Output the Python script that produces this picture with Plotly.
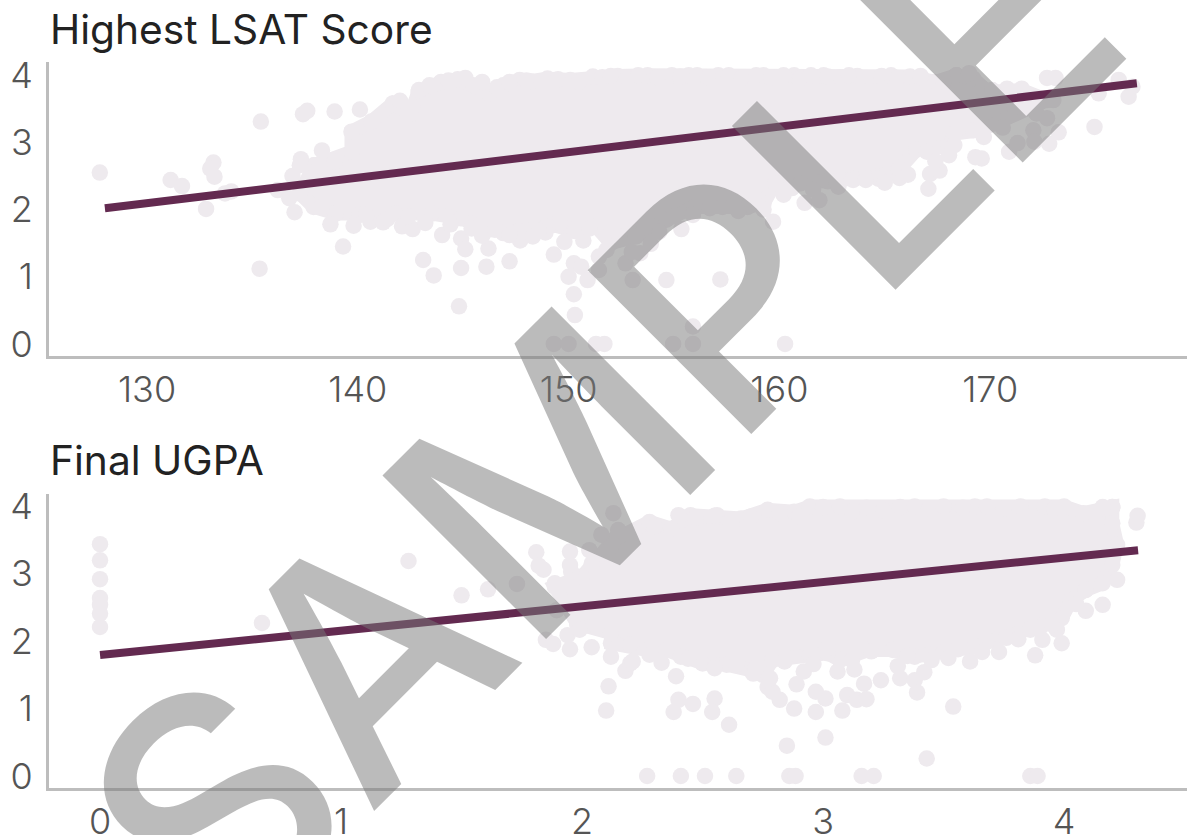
import plotly.graph_objects as go

# ---- Highest LSAT Score ----
lsat_x = [127.76,131.12,131.66,133.15,133.0,133.2,132.8,134.0,133.7,135.4,135.34,137.4,137.6,138.9,140.1,139.3,138.7,139.8,137.0,136.2,136.9,137.3,137.25,138.3,138.9,138.2,136.75,138.3,140.6,141.2,142.1,142.6,143.1,143.6,144.9,146.1,147.2,144.8,144.0,144.9,145.1,146.2,145.9,146.9,147.7,148.3,148.9,149.3,150.7,149.8,150.0,150.25,150.3,150.25,150.6,150.9,149.3,150.0,151.3,151.7,154.96,155.9,155.9,160.27,154.64,157.2,153.04,152.7,153.4,153.0,153.9,151.8,151.44,151.44,155.35,154.3,155.9,158.05,159.7,159.25,160.2,161.2,161.9,162.8,163.5,164.7,165.7,165.8,167.07,167.15,167.6,167.0,168.05,168.3,169.3,169.6,169.2,169.7,170.9,170.6,171.3,172.05,172.1,172.8,173.25,172.7,174.95,175.15,176.57,176.75,176.1,172.7,173.1,173.0,172.2,171.15,169.4,169.65,170.8,171.5,170.1,168.4,169.0]
lsat_y = [2.55,2.44,2.35,2.70,2.61,2.49,2.01,2.27,2.24,3.31,1.12,3.42,3.47,3.46,3.49,1.45,1.78,1.76,1.96,2.29,2.50,2.75,2.66,2.88,2.71,2.66,2.17,2.04,1.82,1.81,1.75,1.71,1.25,1.02,1.13,1.15,1.23,0.56,1.62,1.57,1.41,1.42,1.61,1.65,1.54,1.60,1.66,1.33,1.54,1.52,1.00,0.74,0.43,1.20,1.15,0.95,0,0,0,0,0,0,0.26,0,0.95,0.96,0.95,1.2,1.35,1.37,1.49,1.40,1.30,1.1,1.71,1.67,1.92,1.98,1.82,2.0,2.22,2.10,2.14,2.34,2.44,2.46,2.47,2.59,2.31,2.53,2.58,2.86,2.81,2.96,2.78,2.76,3.18,3.08,2.86,3.22,2.99,3.18,3.01,2.98,3.15,3.36,3.23,3.73,3.68,3.83,3.93,3.96,3.96,3.63,3.43,3.53,3.48,3.8,3.8,3.8,3.78,4.0,4.03]
# edge dots of the LSAT cloud (scalloped top and bottom)
lsat_edge_x = [142.0,142.9,143.4,144.3,145.1,145.9,146.6,147.2,148.0,148.7,149.5,150.5,151.6,152.0,152.8,153.3,154.2,154.9,155.3,156.1,156.6,157.6,158.2,158.9,159.6,160.2,161.0,161.5,162.3,162.9,163.3,165.3,165.6,166.7,167.8,
               140.4,141.4,142.4,143.2,144.4,145.4,146.5,147.2,148.6,149.6,150.3,151.0,152.4,153.6,155.0,156.7,157.8,158.8,160.6,161.6,162.7,164.1,165.0,166.1,167.4]
lsat_edge_y = [3.62,3.78,3.85,3.92,3.96,3.90,3.82,3.90,3.92,3.88,3.94,3.90,3.97,3.99,3.96,4.0,3.97,4.0,3.98,4.0,3.97,4.0,3.96,4.0,3.97,4.0,3.96,4.0,3.98,3.97,4.0,4.0,3.96,3.99,3.90,
               1.92,1.86,1.90,1.80,1.78,1.72,1.70,1.62,1.69,1.80,1.68,1.72,1.60,1.74,1.90,2.02,2.05,2.10,2.32,2.30,2.42,2.44,2.40,2.52,2.72]
# outline of the densest part of the LSAT cloud
lsat_dense_x = [137.93,139.7,139.7,140.64,141.66,142.5,142.88,143.95,144.74,145.47,146.24,146.9,147.68,148.2,149.0,150.08,151.15,152.33,153.75,155.7,157.1,159.25,160.7,162.1,163.7,164.85,166.2,167.4,168.4,169.2,169.9,171.5,172.7,169.55,168.3,168.05,166.5,165.65,164.7,163.5,162.3,161.0,159.8,159.25,158.5,157.3,155.97,154.64,153.2,152.0,151.3,150.0,149.3,148.95,147.6,146.2,144.9,143.5,141.8,140.1,138.95,137.9,137.25,137.93]
lsat_dense_y = [2.66,2.86,3.16,3.31,3.58,3.43,3.75,3.90,3.94,3.85,3.73,3.85,3.93,3.91,3.95,3.93,3.98,3.99,4.0,4.0,4.0,4.0,4.0,4.0,3.99,3.99,3.98,3.9,4.0,3.95,3.75,3.78,3.63,3.18,3.13,2.94,2.89,2.59,2.49,2.46,2.42,2.39,2.39,2.09,2.04,2.04,2.04,1.85,1.6,1.5,1.75,1.7,1.77,1.75,1.67,1.7,1.87,1.94,1.94,1.92,1.94,2.04,2.24,2.66]
lsat_fit_x = [128.0, 176.96]
lsat_fit_y = [2.02, 3.88]

# ---- Final UGPA ----
ugpa_x = [0,0,0,0,0,0,0,0.672,1.28,1.50,1.61,1.73,1.81,1.82,1.84,1.887,1.895,1.85,1.88,1.95,2.04,1.94,1.99,2.06,1.95,1.955,1.95,2.03,2.08,2.13,2.12,2.11,2.10,2.12,2.18,2.2,2.15,2.21,2.39,2.33,2.41,2.40,2.38,2.46,2.55,2.54,2.61,2.77,2.82,2.79,2.71,2.78,2.89,2.88,2.97,3.01,2.97,2.92,3.08,3.10,3.14,3.18,3.17,3.24,3.06,3.13,3.31,3.32,3.38,3.42,3.39,3.54,3.01,2.85,3.43,2.27,2.41,2.51,2.64,2.86,2.886,3.16,3.21,3.86,3.89,3.61,3.52,3.73,3.81,3.88,3.91,3.99,3.97,4.09,4.16,4.22,4.09,4.305,4.30,4.2,4.16]
ugpa_y = [3.44,3.20,2.92,2.64,2.54,2.41,2.21,2.27,3.19,2.68,2.77,2.85,3.32,3.12,3.06,2.86,2.46,2.02,1.96,1.88,1.91,2.09,2.17,2.22,3.33,3.03,3.13,3.35,3.58,3.90,3.40,1.33,0.97,1.77,1.56,1.67,3.65,1.70,1.48,1.68,1.77,1.13,0.95,1.07,1.15,0.95,0.76,1.32,1.13,1.25,1.52,1.45,1.36,1.00,1.25,1.15,0.95,1.55,0.97,1.20,1.13,1.14,1.37,1.42,1.55,1.58,1.63,1.45,1.42,1.54,1.24,1.03,0.57,0.45,0.26,0,0,0,0,0,0,0,0,0,0,1.70,1.75,1.84,2.03,1.79,2.02,1.97,2.17,2.45,2.54,2.91,2.76,3.86,3.76,3.99,3.99]
# edge dots of the UGPA cloud
ugpa_edge_x = [2.30,2.40,2.47,2.55,2.62,2.70,2.82,2.90,3.00,3.12,3.18,3.25,3.38,3.44,3.50,3.58,3.68,3.75,3.82,3.92,3.96,
               2.20,2.28,2.44,2.55,2.64,2.72,2.84,2.96,3.02,3.12,3.20,3.35,3.45,3.56,3.66,3.76,3.90,3.95,4.05]
ugpa_edge_y = [3.70,3.87,3.83,3.86,3.80,3.85,3.90,3.85,3.99,3.92,3.98,3.94,4.0,3.97,4.0,3.98,4.0,3.97,4.0,4.0,3.97,
               1.95,1.80,1.74,1.60,1.65,1.60,1.70,1.66,1.90,1.72,1.85,1.78,1.72,1.88,1.84,2.05,2.20,2.25,2.55]
# outline of the densest part of the UGPA cloud
ugpa_dense_x = [1.98,1.887,2.0,2.04,2.13,2.28,2.37,2.45,2.56,2.66,2.77,2.88,2.945,3.07,3.32,3.63,4.0,4.08,4.2,4.2,4.22,4.2,4.16,4.09,4.03,3.99,3.92,3.86,3.74,3.63,3.5,3.38,3.29,3.19,3.07,3.02,2.945,2.79,2.75,2.70,2.6,2.5,2.35,2.27,2.12,2.12,1.98]
ugpa_dense_y = [2.26,2.81,2.96,3.15,3.5,3.77,3.67,3.87,3.87,3.82,3.95,3.92,4.0,4.0,3.99,4.0,4.0,3.90,3.99,3.75,3.43,3.13,2.86,2.76,2.61,2.34,2.26,2.17,2.07,1.92,1.84,1.77,1.87,1.87,1.72,1.82,1.79,1.72,1.5,1.57,1.65,1.67,1.87,1.87,1.97,2.12,2.26]
ugpa_fit_x = [0.0, 4.307]
ugpa_fit_y = [1.795, 3.35]

titles = ["Highest LSAT Score", "Final UGPA"]
lsat_ticks = [130, 140, 150, 160, 170]
ugpa_ticks = [0, 1, 2, 3, 4]
y_ticks = [0, 1, 2, 3, 4]
watermark = "SAMPLE"

DOT = "#EEEAEE"
LINE = "#632A50"
AXIS = "#BDBDBD"
FONT = "Inter"

fig = go.Figure()
panels = [
    ("x", "y", lsat_dense_x, lsat_dense_y, lsat_x + lsat_edge_x, lsat_y + lsat_edge_y, lsat_fit_x, lsat_fit_y),
    ("x2", "y2", ugpa_dense_x, ugpa_dense_y, ugpa_x + ugpa_edge_x, ugpa_y + ugpa_edge_y, ugpa_fit_x, ugpa_fit_y),
]
for xa, ya, dx, dy, px, py, fx, fy in panels:
    fig.add_trace(go.Scatter(x=dx, y=dy, xaxis=xa, yaxis=ya, mode="lines+markers", fill="toself",
                             fillcolor=DOT, line=dict(color=DOT, width=14),
                             marker=dict(color=DOT, size=16.5), hoverinfo="skip", showlegend=False))
    fig.add_trace(go.Scatter(x=px, y=py, xaxis=xa, yaxis=ya, mode="markers",
                             marker=dict(color=DOT, size=16.5), showlegend=False))
    fig.add_trace(go.Scatter(x=fx, y=fy, xaxis=xa, yaxis=ya, mode="lines",
                             line=dict(color=LINE, width=8), showlegend=False))

tick_font = dict(family=FONT, size=36, color="#555555", weight=300)
common = dict(showgrid=False, zeroline=False, showline=True, linecolor=AXIS, linewidth=3,
              ticks="", tickfont=tick_font, automargin=False)
fig.update_layout(
    width=1187, height=835, margin=dict(l=0, r=0, t=0, b=0),
    paper_bgcolor="white", plot_bgcolor="white", showlegend=False,
    xaxis=dict(domain=[0.0413, 1], range=[125.35, 179.34], tickvals=lsat_ticks, anchor="y", ticklabelstandoff=0, **common),
    yaxis=dict(domain=[0.5737, 0.9257], range=[-0.179, 4.196], tickvals=y_ticks, anchor="x", ticklabelstandoff=6, **common),
    xaxis2=dict(domain=[0.0413, 1], range=[-0.2116, 4.51], tickvals=ugpa_ticks, anchor="y2", ticklabelstandoff=0, **common),
    yaxis2=dict(domain=[0.0563, 0.4084], range=[-0.178, 4.184], tickvals=y_ticks, anchor="x2", ticklabelstandoff=6, **common),
)
title_pos = [0.965, 0.448]
for t, yp in zip(titles, title_pos):
    fig.add_annotation(text=t, xref="paper", yref="paper", x=48 / 1187, y=yp, xanchor="left", yanchor="middle",
                       showarrow=False, font=dict(family=FONT, size=40.7, color="#222222", weight=400))
fig.add_annotation(text=watermark, xref="paper", yref="paper", x=0.5057, y=0.4954, xanchor="center", yanchor="middle",
                   showarrow=False, textangle=-45,
                   font=dict(family=FONT, size=318, color="rgba(120,120,120,0.5)", weight=500))

fig.write_html("out.html", config=dict(displayModeBar=False),
               post_script="document.body.style.margin='0';document.body.style.overflow='hidden';")
